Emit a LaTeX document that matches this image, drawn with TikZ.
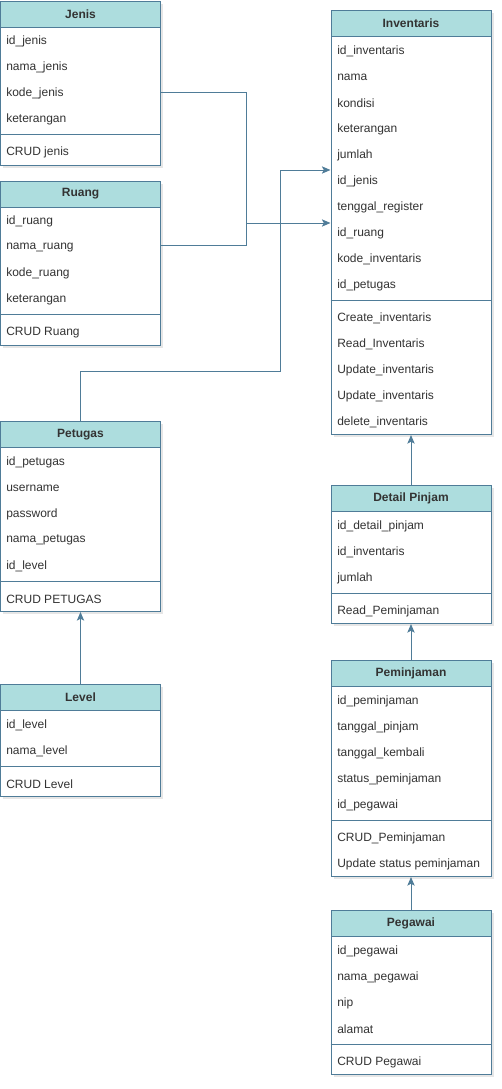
\documentclass[tikz,border=0pt]{standalone}
\usepackage{fontspec}
\setmainfont{Liberation Sans}
\usepackage{tikz}
\usetikzlibrary{arrows.meta,shadows}
\definecolor{hdrfill}{HTML}{ADDDDE}
\definecolor{edge}{HTML}{4F7C98}
\definecolor{txt}{HTML}{333333}

\begin{document}
\begin{tikzpicture}[x=0.75pt,y=-0.75pt,
    box/.style={draw=edge,line width=0.75pt,fill=white,minimum width=120pt,inner sep=0pt,anchor=north,
      drop shadow={opacity=0.2,shadow xshift=2pt,shadow yshift=-2pt}},
    hdr/.style={draw=edge,line width=0.75pt,fill=hdrfill,minimum width=120pt,minimum height=19.5pt,
      inner sep=0pt,anchor=north,font=\fontsize{9}{10}\selectfont\bfseries,text=txt},
    row/.style={anchor=west,inner sep=0pt,yshift=-1.2pt,font=\fontsize{9}{10}\selectfont,text=txt},
    sep/.style={draw=edge,line width=0.75pt},
    conn/.style={draw=edge,line width=0.75pt,-{Stealth[length=6.5pt,width=5.5pt,inset=1.5pt]}},
    wire/.style={draw=edge,line width=0.75pt}]
    \useasboundingbox (0,0) rectangle (502,1089);

    % Jenis
    \node[box,minimum height=123pt] (jenis) at (80.5,0.5) {};
    \node[hdr] (jenish) at (jenis.north) {Jenis};
    \node[row] (jenis1) at (6,39.5) {id\_jenis};
    \node[row] (jenis2) at (6,65.5) {nama\_jenis};
    \node[row] (jenis3) at (6,91.5) {kode\_jenis};
    \node[row] (jenis4) at (6,117.5) {keterangan};
    \draw[sep] (jenis.west |- 0,134) -- (jenis.east |- 0,134);
    \node[row] (jenism1) at (6,151) {CRUD jenis};

    % Ruang
    \node[box,minimum height=123pt] (ruang) at (80.5,180.5) {};
    \node[hdr] (ruangh) at (ruang.north) {Ruang};
    \node[row] (ruang1) at (6,219.5) {id\_ruang};
    \node[row] (ruang2) at (6,245.5) {nama\_ruang};
    \node[row] (ruang3) at (6,271.5) {kode\_ruang};
    \node[row] (ruang4) at (6,297.5) {keterangan};
    \draw[sep] (ruang.west |- 0,314) -- (ruang.east |- 0,314);
    \node[row] (ruangm1) at (6,331) {CRUD Ruang};

    % Petugas
    \node[box,minimum height=142.5pt] (petugas) at (80.5,421) {};
    \node[hdr] (petugash) at (petugas.north) {Petugas};
    \node[row] (petugas1) at (6,460.5) {id\_petugas};
    \node[row] (petugas2) at (6,486.5) {username};
    \node[row] (petugas3) at (6,512.5) {password};
    \node[row] (petugas4) at (6,538.5) {nama\_petugas};
    \node[row] (petugas5) at (6,564.5) {id\_level};
    \draw[sep] (petugas.west |- 0,581) -- (petugas.east |- 0,581);
    \node[row] (petugasm1) at (6,598) {CRUD PETUGAS};

    % Level
    \node[box,minimum height=84pt] (level) at (80.5,684) {};
    \node[hdr] (levelh) at (level.north) {Level};
    \node[row] (level1) at (6,723.5) {id\_level};
    \node[row] (level2) at (6,749.5) {nama\_level};
    \draw[sep] (level.west |- 0,766) -- (level.east |- 0,766);
    \node[row] (levelm1) at (6,783) {CRUD Level};

    % Inventaris
    \node[box,minimum height=318pt] (inv) at (411,10) {};
    \node[hdr] (invh) at (inv.north) {Inventaris};
    \node[row] (inv1) at (337,49.5) {id\_inventaris};
    \node[row] (inv2) at (337,75.5) {nama};
    \node[row] (inv3) at (337,101.5) {kondisi};
    \node[row] (inv4) at (337,127.5) {keterangan};
    \node[row] (inv5) at (337,153.5) {jumlah};
    \node[row] (inv6) at (337,179.5) {id\_jenis};
    \node[row] (inv7) at (337,205.5) {tenggal\_register};
    \node[row] (inv8) at (337,231.5) {id\_ruang};
    \node[row] (inv9) at (337,257.5) {kode\_inventaris};
    \node[row] (inv10) at (337,283.5) {id\_petugas};
    \draw[sep] (inv.west |- 0,300) -- (inv.east |- 0,300);
    \node[row] (invm1) at (337,317) {Create\_inventaris};
    \node[row] (invm2) at (337,343) {Read\_Inventaris};
    \node[row] (invm3) at (337,369) {Update\_inventaris};
    \node[row] (invm4) at (337,395) {Update\_inventaris};
    \node[row] (invm5) at (337,421) {delete\_inventaris};

    % Detail Pinjam
    \node[box,minimum height=103.5pt] (detail) at (411,485) {};
    \node[hdr] (detailh) at (detail.north) {Detail Pinjam};
    \node[row] (detail1) at (337,524.5) {id\_detail\_pinjam};
    \node[row] (detail2) at (337,550.5) {id\_inventaris};
    \node[row] (detail3) at (337,576.5) {jumlah};
    \draw[sep] (detail.west |- 0,593) -- (detail.east |- 0,593);
    \node[row] (detailm1) at (337,610) {Read\_Peminjaman};

    % Peminjaman
    \node[box,minimum height=162pt] (pinjam) at (411,660) {};
    \node[hdr] (pinjamh) at (pinjam.north) {Peminjaman};
    \node[row] (pinjam1) at (337,699.5) {id\_peminjaman};
    \node[row] (pinjam2) at (337,725.5) {tanggal\_pinjam};
    \node[row] (pinjam3) at (337,751.5) {tanggal\_kembali};
    \node[row] (pinjam4) at (337,777.5) {status\_peminjaman};
    \node[row] (pinjam5) at (337,803.5) {id\_pegawai};
    \draw[sep] (pinjam.west |- 0,820) -- (pinjam.east |- 0,820);
    \node[row] (pinjamm1) at (337,837) {CRUD\_Peminjaman};
    \node[row] (pinjamm2) at (337,863) {Update status peminjaman};

    % Pegawai
    \node[box,minimum height=123pt] (pegawai) at (411,910) {};
    \node[hdr] (pegawaih) at (pegawai.north) {Pegawai};
    \node[row] (pegawai1) at (337,949.5) {id\_pegawai};
    \node[row] (pegawai2) at (337,975.5) {nama\_pegawai};
    \node[row] (pegawai3) at (337,1001.5) {nip};
    \node[row] (pegawai4) at (337,1027.5) {alamat};
    \draw[sep] (pegawai.west |- 0,1044) -- (pegawai.east |- 0,1044);
    \node[row] (pegawaim1) at (337,1061) {CRUD Pegawai};

    % connectors
    \coordinate (merge) at (246,223);
    \coordinate (bend) at (280,371);
    \draw[wire] (jenis.east |- 0,92) -| (merge);
    \draw[wire] (ruang.east |- 0,245) -| (merge);
    \draw[conn] (merge) -- (merge -| inv.west);
    \draw[conn] (petugas.north) |- (bend) -- (bend |- 0,170) -- (inv.west |- 0,170);
    \draw[conn] (level.north) -- (petugas.south);
    \draw[conn] (detail.north) -- (inv.south);
    \draw[conn] (pinjam.north) -- (detail.south);
    \draw[conn] (pegawai.north) -- (pinjam.south);
\end{tikzpicture}
\end{document}
